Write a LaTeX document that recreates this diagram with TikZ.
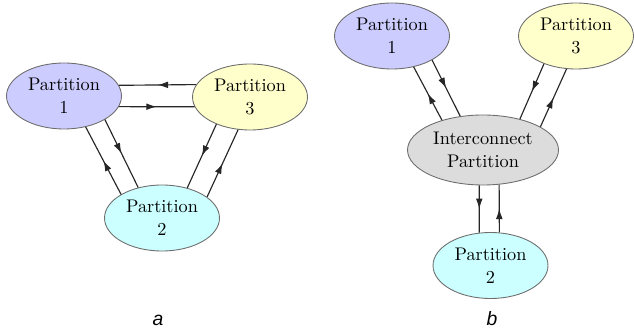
\documentclass[tikz,border=0pt]{standalone}
\usepackage{fontspec}
\usepackage{tikz}
\usetikzlibrary{
  arrows.meta,
  shapes.geometric,
  decorations.markings
}
\newfontfamily\panelfont{Liberation Sans}
\definecolor{partblue}{HTML}{CCCCFF}
\definecolor{partyellow}{HTML}{FFFFCC}
\definecolor{partcyan}{HTML}{CCFFFF}
\definecolor{partgray}{HTML}{DCDCDC}
\definecolor{bordergray}{HTML}{6E6E6E}

\begin{document}
\begin{tikzpicture}[
  x=0.02cm, y=-0.02cm,
  part/.style={
    ellipse, draw=bordergray, line width=0.5pt, minimum width=2.3cm, minimum height=1.32cm,
    inner sep=1pt, align=center, font=\fontsize{10.4pt}{13pt}\selectfont,
  },
  inter/.style={part, minimum width=3.02cm, minimum height=1.4cm, fill=partgray},
  link/.style={line width=0.65pt, draw=black!85, decoration={markings,
      mark=at position 0.5 with {\arrow{Latex[length=2.1mm,width=1.35mm]}}},
    postaction={decorate}},
  panel/.style={font=\panelfont\itshape\fontsize{11pt}{12pt}\selectfont, anchor=base},
]
\useasboundingbox (0,0) rectangle (634,333);

% panel a
\node[part, fill=partblue] (part1a) at (64,96) {Partition\\1};
\node[part, fill=partyellow] (part3a) at (250,97) {Partition\\3};
\node[part, fill=partcyan] (part2a) at (162,218) {Partition\\2};

\draw[link] (part3a.167.3) -- (part1a.11.5);
\draw[link] (part1a.-11.5) -- (part3a.190.4);
\draw[link] (part2a.150.8) -- (part1a.-55);
\draw[link] (part1a.-30.8) -- (part2a.128.9);
\draw[link] (part3a.219.5) -- (part2a.50);
\draw[link] (part2a.25.6) -- (part3a.-110);

% panel b
\node[part, fill=partblue] (part1b) at (392,36) {Partition\\1};
\node[part, fill=partyellow] (part3b) at (576,36) {Partition\\3};
\node[inter] (inter) at (483,150) {Interconnect\\Partition};
\node[part, fill=partcyan] (part2b) at (490.5,265.5) {Partition\\2};

\draw[link] (inter.144.8) -- (part1b.-55.9);
\draw[link] (part1b.-31.2) -- (inter.124.9);
\draw[link] (part3b.221.3) -- (inter.40.1);
\draw[link] (inter.22.6) -- (part3b.254.3);
\draw[link] (inter.-96.5) -- (part2b.109.5);
\draw[link] (part2b.75.3) -- (inter.-65.4);

% captions
\node[panel] (capa) at (158,326) {a};
\node[panel] (capb) at (492,326) {b};

\end{tikzpicture}
\end{document}
